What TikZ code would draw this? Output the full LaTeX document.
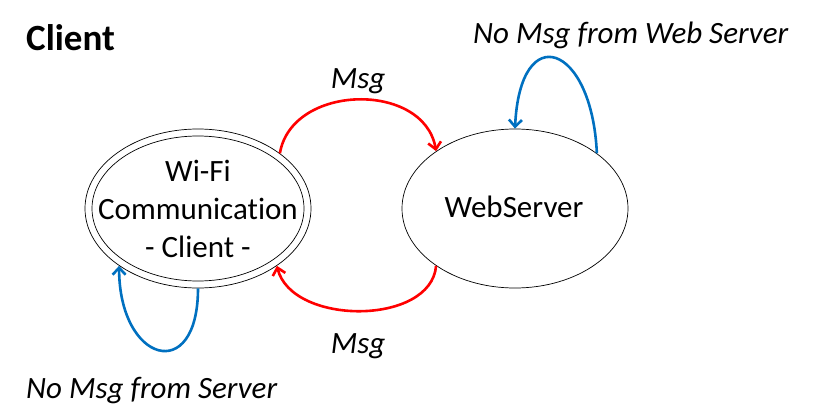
\documentclass[tikz,border=0pt]{standalone}
\usepackage{fontspec}
\setmainfont{Carlito}[Ligatures=NoCommon]
\usetikzlibrary{shapes.geometric,arrows.meta}
\definecolor{msgred}{RGB}{255,0,0}
\definecolor{loopblue}{RGB}{0,112,192}
\begin{document}
\begin{tikzpicture}[x=1pt,y=-1pt,
  stateshape/.style={ellipse,draw=black,line width=0.7pt,inner sep=0pt,minimum width=226pt,minimum height=159pt},
  innershape/.style={ellipse,draw=black,line width=0.7pt,inner sep=0pt,minimum width=212pt,minimum height=145pt},
  body/.style={font=\fontsize{31}{38}\selectfont,align=center,inner sep=0pt},
  lbl/.style={font=\fontsize{31}{38}\selectfont\itshape,inner sep=0pt},
  titlestyle/.style={font=\fontsize{37}{44}\selectfont\bfseries,inner sep=0pt},
  msgarrow/.style={draw=msgred,line width=2.6pt,-{Straight Barb[length=7pt,width=13pt]}},
  looparrow/.style={draw=loopblue,line width=2.6pt,-{Straight Barb[length=7pt,width=13pt]}}
]
\useasboundingbox (0,0) rectangle (814,415);

% states
\node[stateshape] (client) at (198,208.5) {};
\node[innershape] (clientin) at (198,208.5) {};
\node[body] (clienttext) at (198,208.5) {Wi-Fi\\Communication\\- Client -};
\node[stateshape] (ws) at (515,208.5) {};
\node[body] (wstext) at (514,207) {WebServer};

% labels
\node[titlestyle,anchor=base west] (title) at (26,50) {Client};
\node[lbl,anchor=base] (msgtop) at (358,88) {Msg};
\node[lbl,anchor=base] (msgbot) at (358,353) {Msg};
\node[lbl,anchor=base west] (nomsgws) at (473,43) {No Msg from Web Server};
\node[lbl,anchor=base west] (nomsgsrv) at (26,398) {No Msg from Server};

% connectors
\draw[msgarrow] (client.34) .. controls +(12,-70) and +(-12,-70) .. (ws.144);
\draw[msgarrow] (ws.216) .. controls +(-5,60) and +(15,60) .. (client.-36);
\draw[looparrow] (ws.34) .. controls +(-5,-110) and +(5,-110) .. (ws.90);
\draw[looparrow] (client.-90) .. controls +(0,97) and +(0,97) .. (client.216);
\end{tikzpicture}
\end{document}
